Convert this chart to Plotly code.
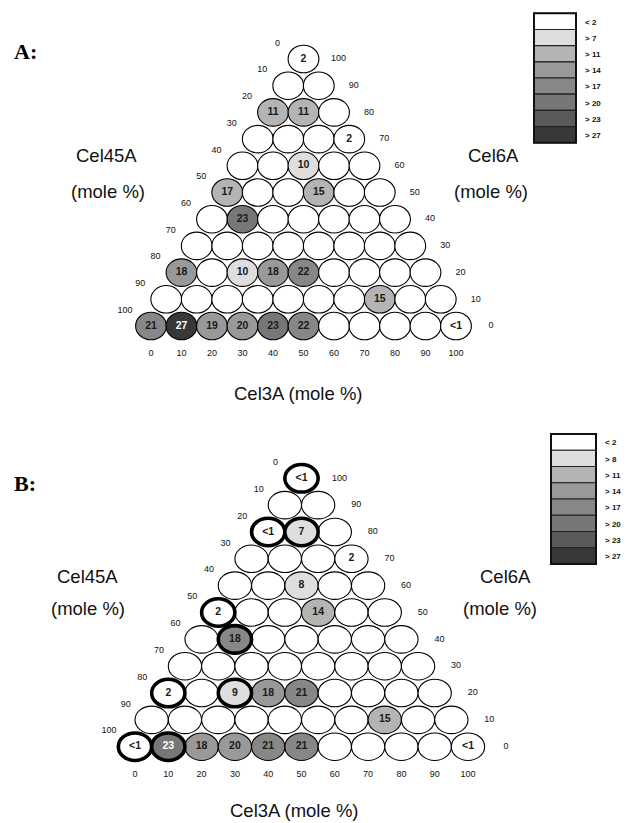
import plotly.graph_objects as go

# ------------------------------------------------------------------ data
# Ternary grid: Cel3A + Cel45A + Cel6A = 100 (mole %), 10 % steps
GRID_VALUES = [0, 10, 20, 30, 40, 50, 60, 70, 80, 90, 100]
CEL45A_TICKS = [0, 10, 20, 30, 40, 50, 60, 70, 80, 90, 100]
CEL6A_TICKS = [100, 90, 80, 70, 60, 50, 40, 30, 20, 10, 0]
CEL3A_TICKS = [0, 10, 20, 30, 40, 50, 60, 70, 80, 90, 100]

# labelled compositions (Cel3A %, Cel6A %); Cel45A = 100 - Cel3A - Cel6A
A_cel3a = [0, 0, 10, 30, 20, 0, 30, 10, 0, 20, 30, 40, 70, 0, 10, 20, 30, 40, 50, 100]
A_cel6a = [100, 80, 80, 70, 60, 50, 50, 40, 20, 20, 20, 20, 10, 0, 0, 0, 0, 0, 0, 0]
A_label = ["2", "11", "11", "2", "10", "17", "15", "23", "18", "10", "18", "22", "15",
           "21", "27", "19", "20", "23", "22", "<1"]
A_level = [0, 2, 2, 0, 1, 2, 2, 5, 3, 1, 3, 4, 2, 4, 7, 3, 3, 5, 4, 0]
A_highlight = [0] * 20

B_cel3a = [0, 0, 10, 30, 20, 0, 30, 10, 0, 20, 30, 40, 70, 0, 10, 20, 30, 40, 50, 100]
B_cel6a = [100, 80, 80, 70, 60, 50, 50, 40, 20, 20, 20, 20, 10, 0, 0, 0, 0, 0, 0, 0]
B_label = ["<1", "<1", "7", "2", "8", "2", "14", "18", "2", "9", "18", "21", "15",
           "<1", "23", "18", "20", "21", "21", "<1"]
B_level = [0, 0, 1, 0, 1, 0, 2, 4, 0, 1, 3, 4, 2, 0, 5, 3, 3, 4, 4, 0]
B_highlight = [1, 1, 1, 0, 0, 1, 0, 1, 1, 1, 0, 0, 0, 1, 1, 0, 0, 0, 0, 0]

A_legend = ["< 2", "> 7", "> 11", "> 14", "> 17", "> 20", "> 23", "> 27"]
B_legend = ["< 2", "> 8", "> 11", "> 14", "> 17", "> 20", "> 23", "> 27"]

# ------------------------------------------------------------------ style
W, H = 626, 823
SHADES = ["#ffffff", "#dedede", "#b4b4b4", "#999999", "#878787", "#777777", "#5a5a5a", "#383838"]
SANS = "Liberation Sans, Arial, sans-serif"
SERIF = "Liberation Serif, Times New Roman, serif"
LIGHT_TEXT = {("A", 10, 0), ("B", 10, 0)}  # (panel, Cel3A, Cel6A) with white label

PANELS = {
    "A": dict(xa="x", ya="y", ox=151.0, sx=3.05, oy=326.0, sy=2.67, ew=30.8, eh=27.5,
              cel3a=A_cel3a, cel6a=A_cel6a, label=A_label, level=A_level, hl=A_highlight,
              legend=A_legend, tag="A:", tag_px=(25, 52), right_dx=35,
              leg_box=(534, 13.3, 576, 142.7), leg_lab_x=584,
              t3=(298, 393), t45=((106.5, 155), (107.5, 191)), t6=((493, 155), (491, 191))),
    "B": dict(xa="x2", ya="y2", ox=135.0, sx=3.33, oy=746.7, sy=2.684, ew=33.3, eh=27.5,
              cel3a=B_cel3a, cel6a=B_cel6a, label=B_label, level=B_level, hl=B_highlight,
              legend=B_legend, tag="B:", tag_px=(25, 483), right_dx=38,
              leg_box=(551, 434, 596, 564), leg_lab_x=604,
              t3=(294, 810.5), t45=((87, 576), (88, 608)), t6=((506, 576), (500, 608))),
}


def px(x):
    return x / W


def py(y):
    return 1 - y / H


def tern_xy(c3, c6):
    return c3 + c6 / 2.0, c6


def note(x, y, text, font, xanchor="center"):
    return dict(x=px(x), y=py(y), xref="paper", yref="paper", text=text, showarrow=False,
                xanchor=xanchor, yanchor="middle", font=font, borderpad=0)


fig = go.Figure()
shapes = []
annotations = []
layout_axes = {}

for name, P in PANELS.items():
    xa, ya = P["xa"], P["ya"]
    ax_suffix = xa[1:]
    layout_axes["xaxis" + ax_suffix] = dict(
        range=[(0 - P["ox"]) / P["sx"], (W - P["ox"]) / P["sx"]], domain=[0, 1],
        visible=False, fixedrange=True, anchor=ya,
        **({"overlaying": "x"} if ax_suffix else {}))
    layout_axes["yaxis" + ax_suffix] = dict(
        range=[(P["oy"] - H) / P["sy"], P["oy"] / P["sy"]], domain=[0, 1],
        visible=False, fixedrange=True, anchor=xa,
        **({"overlaying": "y"} if ax_suffix else {}))

    marked = {}
    for c3, c6, lab, lev, hl in zip(P["cel3a"], P["cel6a"], P["label"], P["level"], P["hl"]):
        marked[(c3, c6)] = (lab, lev, hl)

    hw = P["ew"] / 2 / P["sx"]
    hh = P["eh"] / 2 / P["sy"]
    normal, thick = [], []
    tx, ty, tt, tc = [], [], [], []
    for c6 in GRID_VALUES:
        for c3 in GRID_VALUES:
            if c3 + c6 > 100:
                continue
            X, Y = tern_xy(c3, c6)
            lab, lev, hl = marked.get((c3, c6), ("", 0, 0))
            shp = dict(type="circle", xref=xa, yref=ya, x0=X - hw, x1=X + hw,
                       y0=Y - hh, y1=Y + hh, fillcolor=SHADES[lev],
                       line=dict(color="#000000", width=3.6 if hl else 1.1), layer="below")
            (thick if hl else normal).append(shp)
            if lab:
                tx.append(X)
                ty.append(Y)
                tt.append(lab)
                tc.append("#ffffff" if (name, c3, c6) in LIGHT_TEXT else "#1a1a1a")
    shapes.extend(normal + thick)

    # numbers in ellipses
    fig.add_trace(go.Scatter(x=tx, y=ty, text=tt, mode="text", xaxis=xa, yaxis=ya,
                             textposition="middle center", cliponaxis=False, hoverinfo="skip",
                             textfont=dict(family=SANS, size=10.5, color=tc, weight="bold"),
                             showlegend=False))

    # Cel45A edge labels (left)
    lx = [tern_xy(0, 100 - v)[0] - 26 / P["sx"] for v in CEL45A_TICKS]
    ly = [tern_xy(0, 100 - v)[1] + 15.5 / P["sy"] for v in CEL45A_TICKS]
    fig.add_trace(go.Scatter(x=lx, y=ly, text=[str(v) for v in CEL45A_TICKS], mode="text",
                             xaxis=xa, yaxis=ya, textposition="middle center", cliponaxis=False,
                             hoverinfo="skip", showlegend=False,
                             textfont=dict(family=SANS, size=9, color="#111111")))
    # Cel6A edge labels (right)
    rx = [tern_xy(100 - v, v)[0] + P["right_dx"] / P["sx"] for v in CEL6A_TICKS]
    ry = [tern_xy(100 - v, v)[1] for v in CEL6A_TICKS]
    fig.add_trace(go.Scatter(x=rx, y=ry, text=[str(v) for v in CEL6A_TICKS], mode="text",
                             xaxis=xa, yaxis=ya, textposition="middle center", cliponaxis=False,
                             hoverinfo="skip", showlegend=False,
                             textfont=dict(family=SANS, size=9, color="#111111")))
    # Cel3A edge labels (bottom)
    bx = [tern_xy(v, 0)[0] for v in CEL3A_TICKS]
    by = [tern_xy(v, 0)[1] - 28 / P["sy"] for v in CEL3A_TICKS]
    fig.add_trace(go.Scatter(x=bx, y=by, text=[str(v) for v in CEL3A_TICKS], mode="text",
                             xaxis=xa, yaxis=ya, textposition="middle center", cliponaxis=False,
                             hoverinfo="skip", showlegend=False,
                             textfont=dict(family=SANS, size=9, color="#111111")))

    # axis titles
    tfont = dict(family=SANS, size=18.5, color="#111111")
    annotations.append(note(P["t3"][0], P["t3"][1], "Cel3A (mole %)", tfont))
    for (x, y), t in zip(P["t45"], ["Cel45A", "(mole %)"]):
        annotations.append(note(x, y, t, tfont))
    for (x, y), t in zip(P["t6"], ["Cel6A", "(mole %)"]):
        annotations.append(note(x, y, t, tfont))
    annotations.append(note(P["tag_px"][0], P["tag_px"][1], "<b>" + P["tag"] + "</b>",
                            dict(family=SERIF, size=22, color="#000000")))

    # legend
    x0, y0, x1, y1 = P["leg_box"]
    n = len(P["legend"])
    ch = (y1 - y0) / n
    for k, lab in enumerate(P["legend"]):
        shapes.append(dict(type="rect", xref="paper", yref="paper", x0=px(x0), x1=px(x1),
                           y0=py(y0 + (k + 1) * ch), y1=py(y0 + k * ch), fillcolor=SHADES[k],
                           line=dict(color="#222222", width=1.2), layer="above"))
        annotations.append(note(P["leg_lab_x"], y0 + (k + 0.55) * ch,
                                "<b>" + lab.replace("<", "&lt;").replace(">", "&gt;") + "</b>",
                                dict(family=SANS, size=8, color="#111111"), xanchor="left"))
    shapes.append(dict(type="rect", xref="paper", yref="paper", x0=px(x0), x1=px(x1),
                       y0=py(y1), y1=py(y0), line=dict(color="#111111", width=2),
                       fillcolor="rgba(0,0,0,0)", layer="above"))

fig.update_layout(width=W, height=H, margin=dict(l=0, r=0, t=0, b=0),
                  paper_bgcolor="#ffffff", plot_bgcolor="#ffffff",
                  shapes=shapes, annotations=annotations, showlegend=False, **layout_axes)

fig.write_html("out.html")
